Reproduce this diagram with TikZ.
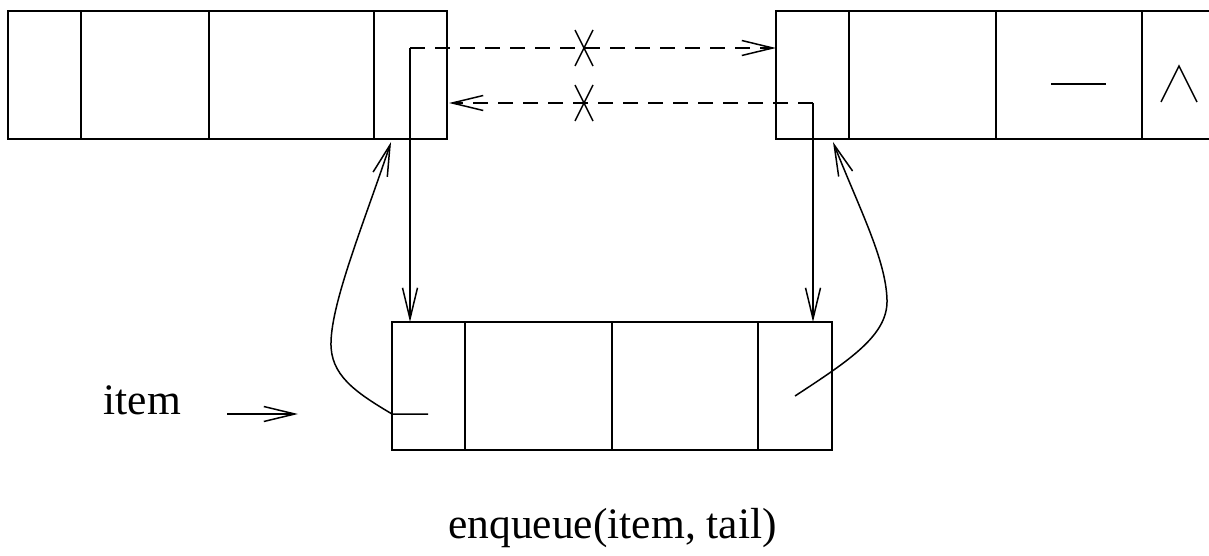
\documentclass[tikz,border=0pt]{standalone}
\usepackage{fontspec}
\setmainfont{Liberation Serif}
\usetikzlibrary{arrows.meta}
\begin{document}
\begin{tikzpicture}[x=1pt,y=-1pt,line width=1.5pt,
  ptr/.style={-{Straight Barb[length=31pt,width=15pt]}},
  oldptr/.style={ptr,dash pattern=on 15pt off 10pt},
  cut/.style={line width=1.5pt},
  label/.style={inner sep=0pt,font=\fontsize{43.5}{52}\selectfont}]
\useasboundingbox (0,0) rectangle (1209,556);

% left list cell
\draw (8,11) rectangle (447,139);
\foreach \x in {81,209,374} \draw (\x,11) -- (\x,139);

% right list cell (runs off the right border)
\draw (776,11) rectangle (1212,139);
\foreach \x in {849,996,1142} \draw (\x,11) -- (\x,139);
\draw (1051,84) -- (1106,84);
\draw (1161,102) -- (1179,66) -- (1197,102);

% new cell
\draw (392,322) rectangle (832,450);
\foreach \x in {465,612,758} \draw (\x,322) -- (\x,450);

% pointer anchors
\coordinate (lnext) at (410,48);
\coordinate (rprev) at (813,103);
\coordinate (rleft) at (776,48);
\coordinate (lright) at (449,103);
\coordinate (nprevtop) at (410,322);
\coordinate (nnexttop) at (813,322);
\coordinate (nprev) at (428,414);
\coordinate (nprevedge) at (392,414);
\coordinate (nnext) at (795,396);
\coordinate (lbot) at (391,142);
\coordinate (rbot) at (833,142);

% old links, crossed out
\draw[oldptr] (lnext) -- (rleft);
\draw[oldptr] (rprev) -- (lright);
\draw[cut] (575,30) -- (593,66) (593,30) -- (575,66);
\draw[cut] (575,85) -- (593,121) (593,85) -- (575,121);

% new cell gets its links
\draw[ptr] (lnext) -- (nprevtop);
\draw[ptr] (rprev) -- (nnexttop);

% neighbours point at the new cell
\draw[ptr] (nprev) -- (nprevedge)
  .. controls (355,392) and (330,375) .. (331,342)
  .. controls (332,300) and (365,220) .. (lbot);
\draw[ptr] (nnext) .. controls (850,360) and (888,335) .. (887,300)
  .. controls (886,260) and (860,210) .. (rbot);

% labels
\node[label,anchor=base west] (itemlbl) at (103,414) {item};
\coordinate (itemtip) at (298,414);
\draw[ptr] (227,414) -- (itemtip);
\node[label,anchor=base] (caption) at (612.5,538) {enqueue(item, tail)};
\end{tikzpicture}
\end{document}
